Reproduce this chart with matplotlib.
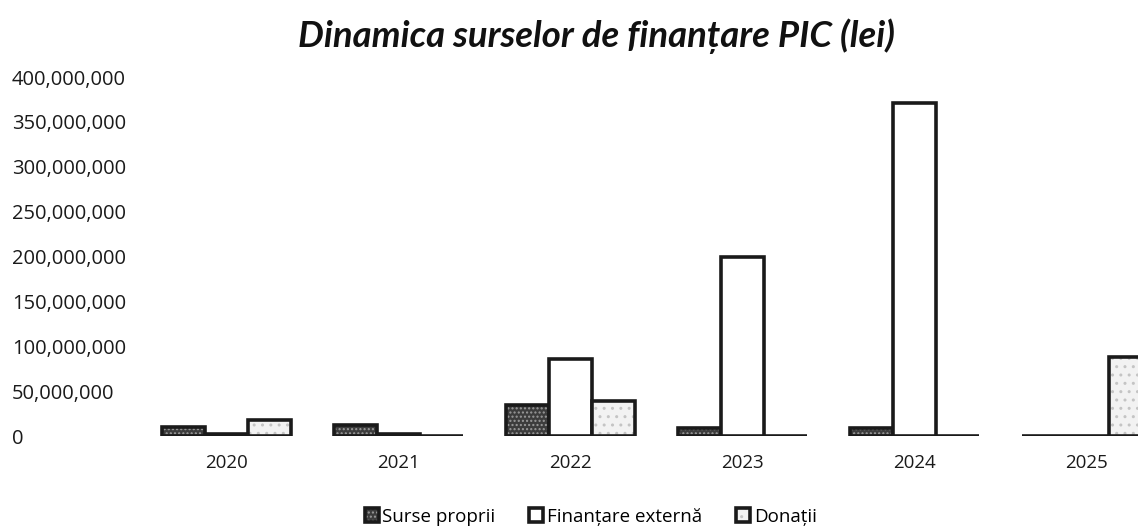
import numpy as np
import matplotlib
matplotlib.use("Agg")
import matplotlib.pyplot as plt
from matplotlib.ticker import FuncFormatter

plt.rcParams['font.family'] = ['Open Sans', 'DejaVu Sans']
plt.rcParams['hatch.linewidth'] = 1.0

# data (lei)
years = ['2020', '2021', '2022', '2023', '2024', '2025']
surse_proprii = [10e6, 12e6, 35e6, 9e6, 9e6, 0]
finantare_externa = [2e6, 2e6, 86e6, 200e6, 371e6, 0]
donatii = [18e6, 0, 39e6, 0, 0, 88e6]
series_names = ['Surse proprii', 'Finanțare externă', 'Donații']

fig = plt.figure(figsize=(11.38, 5.29), dpi=100)
ax = fig.add_axes([150 / 1138, 93 / 529, 1 - 150 / 1138, (436 - 77) / 529])

x = np.arange(len(years))
w = 0.25

# each series: face, hatch colour, hatch
styles = [
    ('#3c3c3c', '#9a9a9a', '....'),
    ('white', '#d8d8d8', ''),
    ('#f2f2f2', '#c4c4c4', '..'),
]
data = [surse_proprii, finantare_externa, donatii]
for k, (vals, name, (fc, hc, hatch)) in enumerate(zip(data, series_names, styles)):
    bars = ax.bar(x + (k - 1) * w, vals, w, label=name, facecolor=fc,
                  edgecolor='#1a1a1a', linewidth=2.6, hatch=hatch, zorder=3)
    for b in bars:
        b._hatch_color = matplotlib.colors.to_rgba(hc)

ax.set_xlim((150 - 226.5) / 172.1, (1138 - 226.5) / 172.1)
ax.set_ylim(0, 400e6)
ax.set_yticks(np.arange(0, 400e6 + 1, 50e6))
ax.yaxis.set_major_formatter(FuncFormatter(lambda v, p: f'{int(v):,}'))
ax.set_xticks(x)
ax.set_xticklabels(years)

ax.tick_params(axis='y', length=0, pad=(150 - 12) / 1.389, labelsize=14.5, colors='#1a1a1a')
ax.tick_params(axis='x', length=0, pad=13, labelsize=13.5, colors='#1a1a1a')
for lab in ax.get_yticklabels():
    lab.set_horizontalalignment('left')

for s in ax.spines.values():
    s.set_visible(False)

fig.text(0.524, 0.932, 'Dinamica surselor de finanțare PIC (lei)', ha='center', va='center',
         fontsize=26.3, fontweight='bold', fontstyle='italic',
         family=['Lato', 'DejaVu Sans'], color='#111111')

fig.legend(loc='center', bbox_to_anchor=(0.519, 0.023), ncol=3, frameon=False,
           fontsize=13.5, handlelength=0.75, handleheight=0.75, handletextpad=0.2,
           columnspacing=1.8)

fig.savefig('out.png', dpi=100)
